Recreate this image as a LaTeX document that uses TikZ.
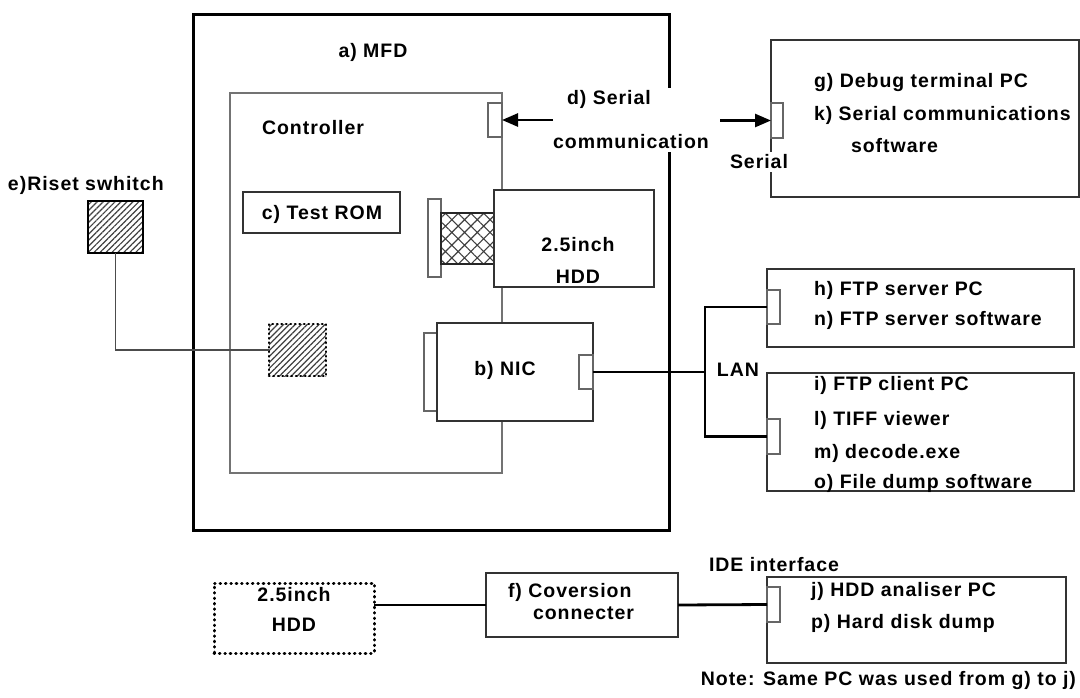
\documentclass[tikz,border=0pt]{standalone}
\usepackage{fontspec}
\setmainfont{Liberation Sans}[LetterSpace=5]
\usetikzlibrary{arrows.meta,patterns.meta}
\begin{document}
\begin{tikzpicture}[x=1pt,y=-1pt,
  every node/.style={font=\bfseries\fontsize{19.5}{23}\selectfont, inner sep=0pt, outer sep=0pt},
  box/.style={draw=black!80, line width=1.3pt, fill=white, anchor=north west},
  ctrlbox/.style={draw=black!55, line width=1.6pt, fill=white, anchor=north west},
  mfdbox/.style={draw=black, line width=3pt, fill=white, anchor=north west},
  port/.style={draw=black!60, line width=1.1pt, fill=white, anchor=north west},
  dotbox/.style={draw=black, line width=3pt, dash pattern=on 0.6pt off 4.8pt, line cap=round, anchor=north west},
  lbl/.style={anchor=west},
  wlbl/.style={fill=white, inner sep=3pt},
  lan/.style={draw=black, line width=2.8pt},
  arr/.style={draw=black, line width=2.6pt, -{Triangle[length=16pt,width=13pt]}},
  thinline/.style={draw=black!70, line width=1.1pt}
]
\useasboundingbox (0,0) rectangle (1080,697);

% MFD and controller
\node[mfdbox, minimum width=476pt, minimum height=516pt] (mfd) at (193,14) {};
\node at (373,52) (mfdlbl) {a) MFD};
\node[ctrlbox, minimum width=272pt, minimum height=380pt] (ctrl) at (230,93) {};
\node at (313,128) (ctrllbl) {Controller};
\node[box, minimum width=157pt, minimum height=41pt] (rom) at (243,192) {};
\node at (322,214) (romlbl) {c) Test ROM};
\node[port, minimum width=14pt, minimum height=34pt] (cport) at (488,103) {};

% internal HDD
\node[port, minimum width=13pt, minimum height=78pt] (hconn) at (428,199) {};
\node[draw=black!85, line width=1.2pt, anchor=north west, minimum width=53pt, minimum height=51pt,
      pattern={Hatch[angle=45,distance=9pt,line width=1.1pt]}, pattern color=black!75] (hcab) at (441,213) {};
\node[box, minimum width=160pt, minimum height=97pt] (hdd) at (494,190) {};
\node at (578,245) (hddl1) {2.5inch};
\node at (578,277) (hddl2) {HDD};

% NIC
\node[port, minimum width=13pt, minimum height=78pt] (nconn) at (424,333) {};
\node[box, minimum width=156pt, minimum height=98pt] (nic) at (437,323) {};
\node at (505,370) (niclbl) {b) NIC};
\node[port, minimum width=14pt, minimum height=34pt] (nport) at (579,355) {};

% reset switch
\node[draw=black, line width=1.3pt, anchor=north west, minimum width=55pt, minimum height=52pt,
      pattern={Lines[angle=45,distance=4.2pt,line width=1.2pt]}, pattern color=black!75] (sw) at (88,201) {};
\node[lbl] at (8,185) (swlbl) {e)Riset swhitch};
\node[anchor=north west, minimum width=57pt, minimum height=52pt,
      pattern={Lines[angle=45,distance=4.2pt,line width=1.2pt]}, pattern color=black!75] (rs) at (269,324) {};
\node[dotbox, line width=2.6pt, dash pattern=on 0.5pt off 4pt, minimum width=57pt, minimum height=52pt] (rsb) at (269,324) {};
\draw[thinline] (sw.south) |- (rs.west);

% serial communication
\node[fill=white, inner sep=3pt, align=left, font=\bfseries\fontsize{19.5}{44}\selectfont] (serlbl) at (631,120)
  {\hspace{14pt}d) Serial\\communication};
\coordinate (a1) at (553,120);
\coordinate (a2) at (720,120.5);
\draw[arr] (a1) -- (cport.east);

% debug PC
\node[box, minimum width=308pt, minimum height=157pt] (dbg) at (771,40) {};
\node[lbl] at (814,82) (g) {g) Debug terminal PC};
\node[lbl] at (814,115) (k) {k) Serial communications};
\node[lbl] at (851,146) (ksw) {software};
\node[port, minimum width=12pt, minimum height=35pt] (dport) at (771,103) {};
\node[wlbl] at (759,162) (serl) {Serial};
\draw[arr] (a2) -- (dport.west);

% FTP server / client
\node[box, minimum width=307pt, minimum height=78pt] (ftps) at (767,269) {};
\node[lbl] at (814,290) (h) {h) FTP server PC};
\node[lbl] at (814,320) (n) {n) FTP server software};
\node[port, minimum width=13pt, minimum height=34pt] (hport) at (767,290) {};
\node[box, minimum width=307pt, minimum height=118pt] (ftpc) at (767,373) {};
\node[lbl] at (814,385) (i) {i) FTP client PC};
\node[lbl] at (814,420) (l) {l) TIFF viewer};
\node[lbl] at (814,453) (m) {m) decode.exe};
\node[lbl] at (814,483) (o) {o) File dump software};
\node[port, minimum width=13pt, minimum height=35pt] (iport) at (767,419) {};
\coordinate (lanj) at (705,372);
\draw[lan] (nport.east) -- (lanj);
\draw[lan] (hport.west) -| (lanj) |- (iport.west);
\node at (738,370) (lanlbl) {LAN};

% bottom
\node[dotbox, minimum width=160pt, minimum height=70pt] (hdd2) at (214,583) {};
\node at (294,595) (hdd2l1) {2.5inch};
\node at (294,625) (hdd2l2) {HDD};
\node[box, minimum width=192pt, minimum height=64pt] (conv) at (486,573) {};
\node[lbl] at (508,592) (f1) {f) Coversion};
\node[lbl] at (533,613) (f2) {connecter};
\node[box, minimum width=299pt, minimum height=86pt] (ana) at (767,577) {};
\node[wlbl] at (774,565) (ide) {IDE interface};
\node[lbl] at (811,591) (j) {j) HDD analiser PC};
\node[lbl] at (811,623) (p) {p) Hard disk dump};
\node[port, minimum width=13pt, minimum height=35pt] (jport) at (767,587) {};
\draw[lan] (hdd2.east |- conv.west) -- (conv.west);
\draw[lan] (conv.east) -- (jport.west);
\node[anchor=east] at (1076,680) (note) {Note: Same PC was used from g) to j)};
\end{tikzpicture}
\end{document}
